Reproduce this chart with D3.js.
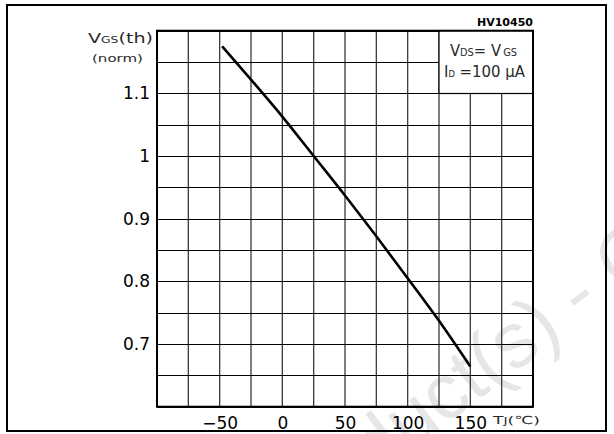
<!DOCTYPE html>
<html>
<head>
<meta charset="utf-8">
<script src="https://cdn.jsdelivr.net/npm/d3@7"></script>
<style>
  html, body { margin: 0; padding: 0; background: #fff; }
  svg { display: block; }
</style>
</head>
<body>
<svg id="chart" width="614" height="434"></svg>
<script>
// Normalized gate threshold voltage vs junction temperature
const tempC = [-48, -25, 0, 25, 50, 75, 100, 125, 150];
const vgsNorm = [1.175, 1.122, 1.063, 1.0, 0.937, 0.872, 0.805, 0.737, 0.664];

const xTickValues = [-50, 0, 50, 100, 150];
const yTickValues = [0.7, 0.8, 0.9, 1.0, 1.1];
const yTickLabels = ["0.7", "0.8", "0.9", "1", "1.1"];
const xGridValues = d3.range(-100, 201, 25);
const yGridValues = d3.range(0, 13).map(i => 0.6 + i * 0.05);

const svg = d3.select("#chart");
const plotLeft = 157, plotRight = 533, plotTop = 30.7, plotBottom = 406.7;

const x = d3.scaleLinear().domain([-100, 200]).range([plotLeft, plotRight]);
const y = d3.scaleLinear().domain([0.6, 1.2]).range([plotBottom, plotTop]);

// faint watermark behind everything
svg.append("text")
  .attr("transform", "translate(576,292) rotate(-37)")
  .attr("text-anchor", "middle")
  .attr("dy", "0.35em")
  .style("font-family", "'Liberation Sans', Arial, sans-serif")
  .style("font-size", "78px")
  .style("fill", "#e6e6e6")
  .text("Obsolete Product(s) - Obsolete Product(s)");

// outer frame
svg.append("rect")
  .attr("x", 7).attr("y", 5).attr("width", 599).attr("height", 426)
  .attr("fill", "none").attr("stroke", "#000").attr("stroke-width", 2);

// grid
const grid = svg.append("g");
grid.selectAll("line.v").data(xGridValues).join("line")
  .attr("class", "v")
  .attr("x1", d => x(d)).attr("x2", d => x(d))
  .attr("y1", plotTop).attr("y2", plotBottom)
  .attr("stroke", "#3a3a3a").attr("stroke-width", 1.3);
grid.selectAll("line.h").data(yGridValues).join("line")
  .attr("class", "h")
  .attr("x1", plotLeft).attr("x2", plotRight)
  .attr("y1", d => Math.round(y(d)) + 0.5).attr("y2", d => Math.round(y(d)) + 0.5)
  .attr("stroke", "#000").attr("stroke-width", 1);

// condition box in the upper right corner
svg.append("rect")
  .attr("x", x(125)).attr("y", y(1.2))
  .attr("width", x(200) - x(125)).attr("height", Math.round(y(1.1)) + 0.5 - y(1.2))
  .attr("fill", "#fff").attr("stroke", "#000").attr("stroke-width", 1.2);

const thin = "'DejaVu Sans Condensed', 'DejaVu Sans', sans-serif";
const thinFill = "#2a2a2a";
const cond1 = svg.append("text")
  .attr("x", 450).attr("y", 56)
  .attr("textLength", 67).attr("lengthAdjust", "spacingAndGlyphs")
  .style("font-family", thin).style("font-size", "15px")
  .attr("fill", thinFill);
cond1.append("tspan").text("V");
cond1.append("tspan").style("font-size", "10px").text("DS");
cond1.append("tspan").text("= V");
cond1.append("tspan").style("font-size", "10px").attr("dx", 2).text("GS");

const cond2 = svg.append("text")
  .attr("x", 444).attr("y", 77)
  .attr("textLength", 81).attr("lengthAdjust", "spacingAndGlyphs")
  .style("font-family", thin).style("font-size", "16px")
  .attr("fill", thinFill);
cond2.append("tspan").text("I");
cond2.append("tspan").style("font-size", "9px").text("D");
cond2.append("tspan").text(" =100 μA");

// plot frame
svg.append("rect")
  .attr("x", plotLeft).attr("y", plotTop)
  .attr("width", plotRight - plotLeft).attr("height", plotBottom - plotTop)
  .attr("fill", "none").attr("stroke", "#000").attr("stroke-width", 2);

// curve
const line = d3.line()
  .x((d, i) => x(tempC[i]))
  .y(d => y(d))
  .curve(d3.curveMonotoneX);
svg.append("path")
  .datum(vgsNorm)
  .attr("d", line)
  .attr("fill", "none").attr("stroke", "#000").attr("stroke-width", 2.6);

// tick labels
const labelFont = "'DejaVu Sans', Verdana, sans-serif";
const xAxis = svg.append("g")
  .attr("transform", `translate(0,${plotBottom})`)
  .call(d3.axisBottom(x).tickValues(xTickValues).tickSize(0).tickPadding(10));
xAxis.select(".domain").remove();
xAxis.selectAll("text").style("font-family", labelFont).style("font-size", "17px").attr("fill", "#000");

const yAxis = svg.append("g")
  .attr("transform", `translate(${plotLeft},0)`)
  .call(d3.axisLeft(y).tickValues(yTickValues).tickSize(0).tickPadding(7)
    .tickFormat((d, i) => yTickLabels[i]));
yAxis.select(".domain").remove();
yAxis.selectAll("text").style("font-family", labelFont).style("font-size", "17px").attr("fill", "#000");

// axis titles
const yt = svg.append("text")
  .attr("x", 88).attr("y", 43)
  .attr("textLength", 65).attr("lengthAdjust", "spacingAndGlyphs")
  .style("font-family", thin).style("font-size", "14px")
  .attr("fill", thinFill);
yt.append("tspan").text("V");
yt.append("tspan").style("font-size", "9px").text("GS");
yt.append("tspan").text("(th)");

svg.append("text")
  .attr("x", 92).attr("y", 62)
  .attr("textLength", 51).attr("lengthAdjust", "spacingAndGlyphs")
  .style("font-family", thin).style("font-size", "11px")
  .attr("fill", thinFill)
  .text("(norm)");

const xt = svg.append("text")
  .attr("x", 493).attr("y", 424)
  .attr("textLength", 47).attr("lengthAdjust", "spacingAndGlyphs")
  .style("font-family", thin).style("font-size", "11px")
  .attr("fill", thinFill);
xt.append("tspan").text("T");
xt.append("tspan").style("font-size", "9px").text("J");
xt.append("tspan").text("(℃)");

// drawing reference code
svg.append("text")
  .attr("x", 533).attr("y", 26).attr("text-anchor", "end")
  .style("font-family", "'DejaVu Sans', sans-serif").style("font-size", "11px").style("font-weight", "bold")
  .attr("fill", "#000")
  .text("HV10450");
</script>
</body>
</html>
